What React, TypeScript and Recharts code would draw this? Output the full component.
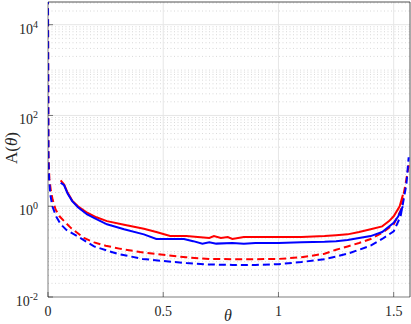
import { LineChart, Line, XAxis, YAxis, ReferenceLine, Label } from 'recharts';

const THETA_TICKS = [0, 0.5, 1, 1.5];
const A_TICKS = [0.01, 1, 100, 10000];
const A_TOP = 31623;
const THETA_MAX = Math.PI / 2;

// solid red
const redSolidTheta = [0.055, 0.07, 0.085, 0.105, 0.13, 0.17, 0.21, 0.256, 0.33, 0.416, 0.47, 0.53, 0.6, 0.65, 0.7, 0.72, 0.75, 0.78, 0.8, 0.85, 0.9, 1.0, 1.1, 1.2, 1.25, 1.3, 1.35, 1.4, 1.45, 1.48, 1.5, 1.526, 1.54];
const redSolidA = [3.7, 3.0, 2.0, 1.33, 1.0, 0.72, 0.57, 0.47, 0.39, 0.32, 0.27, 0.22, 0.22, 0.21, 0.2, 0.22, 0.2, 0.21, 0.19, 0.21, 0.21, 0.21, 0.21, 0.22, 0.23, 0.24, 0.27, 0.31, 0.36, 0.47, 0.6, 1.0, 1.8];

// solid blue
const blueSolidTheta = [0.055, 0.07, 0.085, 0.105, 0.13, 0.17, 0.21, 0.256, 0.33, 0.416, 0.47, 0.53, 0.59, 0.63, 0.67, 0.7, 0.73, 0.8, 0.85, 0.9, 1.0, 1.1, 1.2, 1.25, 1.3, 1.35, 1.4, 1.45, 1.5, 1.52, 1.54];
const blueSolidA = [3.3, 2.9, 1.9, 1.3, 0.95, 0.66, 0.52, 0.4, 0.31, 0.24, 0.19, 0.19, 0.19, 0.17, 0.15, 0.16, 0.15, 0.155, 0.15, 0.155, 0.155, 0.16, 0.165, 0.17, 0.18, 0.2, 0.22, 0.27, 0.43, 0.6, 1.0];

// dashed red
const redDashTheta = [0, 0.002, 0.006, 0.012, 0.02, 0.033, 0.05, 0.07, 0.1, 0.156, 0.2, 0.25, 0.315, 0.4, 0.5, 0.6, 0.7, 0.8, 0.9, 1.0, 1.1, 1.2, 1.25, 1.3, 1.35, 1.4, 1.45, 1.5, 1.53, 1.555, 1.565];
const redDashA = [40000, 15, 4, 2.3, 1.4, 0.85, 0.6, 0.47, 0.33, 0.2, 0.16, 0.135, 0.115, 0.098, 0.085, 0.075, 0.069, 0.068, 0.068, 0.069, 0.075, 0.09, 0.11, 0.13, 0.155, 0.19, 0.26, 0.4, 0.8, 3.9, 8];

// dashed blue
const blueDashTheta = [0, 0.002, 0.005, 0.01, 0.019, 0.035, 0.055, 0.08, 0.127, 0.2, 0.3, 0.41, 0.5, 0.6, 0.7, 0.8, 0.9, 1.0, 1.1, 1.2, 1.25, 1.3, 1.35, 1.4, 1.45, 1.5, 1.53, 1.555, 1.565];
const blueDashA = [40000, 10, 3.9, 1.8, 1.0, 0.6, 0.4, 0.3, 0.22, 0.13, 0.09, 0.069, 0.062, 0.056, 0.052, 0.051, 0.051, 0.053, 0.059, 0.068, 0.078, 0.09, 0.11, 0.135, 0.19, 0.28, 0.6, 3, 12];

const toPoints = (t: number[], a: number[]) => t.map((theta, i) => ({ theta, a: a[i] }));

// minor log grid: 2..9 and odd decades
const minorA: number[] = [];
for (let d = -2; d <= 4; d++) {
  for (let m = 1; m <= 9; m++) {
    const v = m * Math.pow(10, d);
    if (v <= A_TOP && !A_TICKS.includes(v)) minorA.push(v);
  }
}

const FONT = '"Liberation Serif", "Times New Roman", serif';
const AXIS = '#262626';

function ATick({ x, y, payload }: any) {
  const e = Math.round(Math.log10(payload.value));
  return (
    <g>
      <line x1={x} x2={x + 5} y1={y} y2={y} stroke={AXIS} strokeWidth={0.6} />
      <text x={x - 10} y={y + 9} textAnchor="end" fontFamily={FONT} fontSize={14} fill={AXIS}>
        <tspan>10</tspan>
        <tspan dy={-6} fontSize={10}>{e}</tspan>
      </text>
    </g>
  );
}

function ThetaTick({ x, y, payload }: any) {
  return (
    <g>
      <line x1={x} x2={x} y1={y} y2={y - 5} stroke={AXIS} strokeWidth={0.6} />
      <text x={x} y={y + 19} textAnchor="middle" fontFamily={FONT} fontSize={14} fill={AXIS}>
        {String(payload.value)}
      </text>
    </g>
  );
}

export default function App() {
  return (
    <div style={{ position: 'absolute', left: 0, top: 0, background: '#fff' }}>
      <LineChart width={411} height={324} margin={{ top: 2, right: 1, bottom: 0, left: 0 }}>
        {minorA.map((v) => (
          <ReferenceLine key={'m' + v} y={v} stroke="#cfcfcf" strokeWidth={0.8} strokeDasharray="1 2.5" />
        ))}
        {A_TICKS.slice(1).map((v) => (
          <ReferenceLine key={'M' + v} y={v} stroke="#e6e6e6" strokeWidth={1} />
        ))}
        {THETA_TICKS.slice(1).map((v) => (
          <ReferenceLine key={'X' + v} x={v} stroke="#e6e6e6" strokeWidth={1} />
        ))}
        <XAxis
          dataKey="theta"
          type="number"
          domain={[0, THETA_MAX]}
          ticks={THETA_TICKS}
          allowDataOverflow
          height={27}
          tickSize={0}
          tickMargin={0}
          tick={<ThetaTick />}
          stroke={AXIS}
          strokeWidth={0.6}
        >
          <Label
            content={() => (
              <text x={228} y={321} textAnchor="middle" fontFamily={FONT} fontSize={16} fontStyle="italic" fill={AXIS}>
                θ
              </text>
            )}
          />
        </XAxis>
        <YAxis
          dataKey="a"
          scale="log"
          domain={[0.01, A_TOP]}
          ticks={A_TICKS}
          allowDataOverflow
          width={48}
          tickSize={0}
          tickMargin={0}
          tick={<ATick />}
          stroke={AXIS}
          strokeWidth={0.6}
        >
          <Label
            content={() => (
              <text
                x={17}
                y={148}
                transform="rotate(-90, 17, 148)"
                textAnchor="middle"
                fontFamily={FONT}
                fontSize={17}
                fill={AXIS}
              >
                A(<tspan fontStyle="italic">θ</tspan>)
              </text>
            )}
          />
        </YAxis>
        <ReferenceLine y={A_TOP} stroke={AXIS} strokeWidth={0.8} ifOverflow="visible" />
        <ReferenceLine x={THETA_MAX} stroke={AXIS} strokeWidth={0.8} ifOverflow="visible" />
        <Line data={toPoints(redDashTheta, redDashA)} dataKey="a" stroke="#ff0000" strokeWidth={2} strokeDasharray="7 4" dot={false} isAnimationActive={false} />
        <Line data={toPoints(blueDashTheta, blueDashA)} dataKey="a" stroke="#0000ff" strokeWidth={2} strokeDasharray="7 4" dot={false} isAnimationActive={false} />
        <Line data={toPoints(redSolidTheta, redSolidA)} dataKey="a" stroke="#ff0000" strokeWidth={2} dot={false} isAnimationActive={false} />
        <Line data={toPoints(blueSolidTheta, blueSolidA)} dataKey="a" stroke="#0000ff" strokeWidth={2} dot={false} isAnimationActive={false} />
      </LineChart>
    </div>
  );
}
